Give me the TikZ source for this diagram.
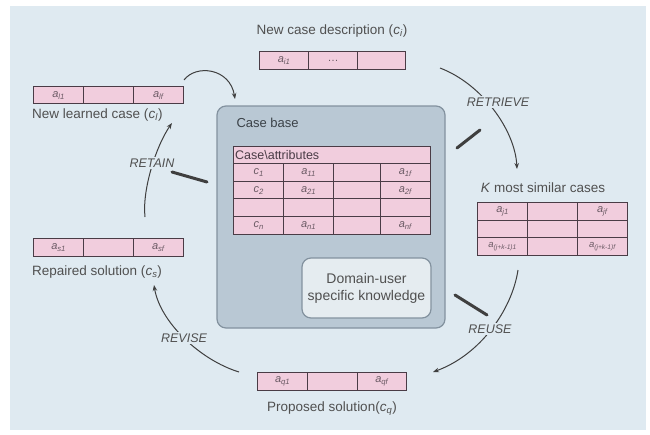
\documentclass[tikz,border=0pt]{standalone}
\usepackage{fontspec}
\setmainfont{Liberation Sans}
\usetikzlibrary{arrows.meta}
\definecolor{bg}{HTML}{DFEAF1}
\definecolor{pinkc}{HTML}{F1CDDD}
\definecolor{recline}{HTML}{4A3C46}
\definecolor{cbfill}{HTML}{B9C8D4}
\definecolor{cbline}{HTML}{83929F}
\definecolor{dkfill}{HTML}{E5ECF0}
\definecolor{txt}{HTML}{505050}
\definecolor{celltxt}{HTML}{6A5A64}
\definecolor{arrc}{HTML}{3F3F3F}
\newcommand{\att}[2]{\textit{#1}\textsubscript{\textit{#2}}}
\begin{document}
\begin{tikzpicture}[x=1pt,y=-1pt,
  cell/.style={draw=recline, line width=1.3pt, fill=pinkc, minimum height=18pt, inner sep=0pt,
     anchor=north west, font=\fontsize{11}{12}\selectfont, text=celltxt},
  lbl/.style={font=\fontsize{13.5}{15}\selectfont, text=txt, inner sep=1pt},
  proc/.style={font=\fontsize{12.5}{14}\selectfont\itshape, text=txt, fill=bg, inner sep=2pt},
  arr/.style={draw=arrc, line width=1pt, -{Stealth[length=6pt,width=4.5pt]}},
  bar/.style={draw=arrc, line width=3pt, line cap=round}]
\useasboundingbox (0,0) rectangle (650,434);
\fill[bg] (10,6) rectangle (646,430);

% case base
\node[draw=cbline, line width=1.2pt, fill=cbfill, rounded corners=9pt, minimum width=228pt, minimum height=222pt] (cb) at (331,217) {};
\node[anchor=west, font=\fontsize{13}{14}\selectfont, text=black!55!cbline] (cbl) at (233,123) {Case base};
% table
\node[cell, minimum width=197pt, minimum height=17pt, text width=194pt, align=left, font=\fontsize{12.5}{13}\selectfont, text=recline] (th) at (233,146) {Case\textbackslash attributes};
\foreach \r/\y/\ca/\cb/\cc in {1/163/\att{c}{1}/\att{a}{11}/\att{a}{1f},2/181/\att{c}{2}/\att{a}{21}/\att{a}{2f},3/198///,4/216/\att{c}{n}/\att{a}{n1}/\att{a}{nf}}{
  \node[cell, minimum width=50pt, minimum height=18pt] (t\r a) at (233,\y) {\ca};
  \node[cell, minimum width=50pt, minimum height=18pt] (t\r b) at (283,\y) {\cb};
  \node[cell, minimum width=47pt, minimum height=18pt] (t\r c) at (333,\y) {};
  \node[cell, minimum width=50pt, minimum height=18pt] (t\r d) at (380,\y) {\cc};
}
% domain box
\node[draw=cbline, line width=1.2pt, fill=dkfill, rounded corners=9pt, minimum width=129pt, minimum height=60pt, align=center,
  font=\fontsize{14}{17}\selectfont, text=txt] (dk) at (366.5,288) {Domain-user\\specific knowledge};

% new case description
\node[lbl] (ncl) at (332,31) {New case description (\att{c}{i})};
\node[cell, minimum width=49pt] (nc1) at (259,51) {\att{a}{i1}};
\node[cell, minimum width=49pt] (nc2) at (308,51) {\dots};
\node[cell, minimum width=48pt] (nc3) at (357,51) {};

% new learned case
\node[cell, minimum width=50pt, minimum height=17pt] (nl1) at (33,86) {\att{a}{l1}};
\node[cell, minimum width=50pt, minimum height=17pt] (nl2) at (83,86) {};
\node[cell, minimum width=50pt, minimum height=17pt] (nl3) at (133,86) {\att{a}{lf}};
\node[lbl, anchor=west] (nll) at (31,115) {New learned case (\att{c}{l})};

% repaired solution
\node[cell, minimum width=50pt] (rs1) at (33,238) {\att{a}{s1}};
\node[cell, minimum width=50pt] (rs2) at (83,238) {};
\node[cell, minimum width=50pt] (rs3) at (133,238) {\att{a}{sf}};
\node[lbl, anchor=west] (rsl) at (31,272) {Repaired solution (\att{c}{s})};

% proposed solution
\node[cell, minimum width=50pt] (ps1) at (257,372) {\att{a}{q1}};
\node[cell, minimum width=50pt] (ps2) at (307,372) {};
\node[cell, minimum width=49pt] (ps3) at (357,372) {\att{a}{qf}};
\node[lbl] (psl) at (332,409) {Proposed solution(\att{c}{q})};

% K most similar cases
\node[lbl] (kl) at (543,188) {\textit{K} most similar cases};
\node[cell, minimum width=50pt] (k11) at (477,202) {\att{a}{j1}};
\node[cell, minimum width=50pt] (k12) at (527,202) {};
\node[cell, minimum width=50pt] (k13) at (577,202) {\att{a}{jf}};
\node[cell, minimum width=50pt, minimum height=17pt] (k21) at (477,220) {};
\node[cell, minimum width=50pt, minimum height=17pt] (k22) at (527,220) {};
\node[cell, minimum width=50pt, minimum height=17pt] (k23) at (577,220) {};
\node[cell, minimum width=50pt, font=\fontsize{9.5}{10}\selectfont] (k31) at (477,237) {\att{a}{(j+k-1)1}};
\node[cell, minimum width=50pt] (k32) at (527,237) {};
\node[cell, minimum width=50pt, font=\fontsize{9.5}{10}\selectfont] (k33) at (577,237) {\att{a}{(j+k-1)f}};

% connector coordinates
\coordinate (c0s) at (184,80);
\coordinate (c0e) at (235,99);
\coordinate (rts) at (440,68);
\coordinate (rte) at (517,169);
\coordinate (rus) at (518,270);
\coordinate (rue) at (433,372);
\coordinate (rvs) at (239,372);
\coordinate (rve) at (154,285);
\coordinate (rns) at (145,217);
\coordinate (rne) at (172,123);
\coordinate (b1a) at (457,148); \coordinate (b1b) at (480,130);
\coordinate (b2a) at (455,295); \coordinate (b2b) at (487,315);
\coordinate (b3a) at (172,172); \coordinate (b3b) at (207,182);

\draw[arr] (c0s) .. controls (196,64) and (230,68) .. (c0e);
\draw[arr] (rts) .. controls (482,84) and (515,130) .. (rte);
\draw[arr] (rus) .. controls (512,310) and (480,355) .. (rue);
\draw[arr] (rvs) .. controls (200,360) and (160,322) .. (rve);
\draw[arr] (rns) .. controls (142,190) and (156,146) .. (rne);

\draw[bar] (b1a) -- (b1b);
\draw[bar] (b2a) -- (b2b);
\draw[bar] (b3a) -- (b3b);

\node[proc] (retrieve) at (498,102) {RETRIEVE};
\node[proc] (reuse) at (490,329) {REUSE};
\node[proc] (revise) at (184,338) {REVISE};
\node[proc] (retain) at (152,163) {RETAIN};
\end{tikzpicture}
\end{document}
